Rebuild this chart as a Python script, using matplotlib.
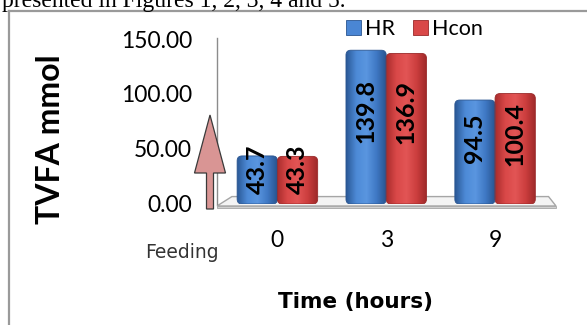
import matplotlib
matplotlib.use('Agg')
import matplotlib.pyplot as plt
import numpy as np
from matplotlib.patches import Polygon, FancyArrow, Patch, FancyBboxPatch
from matplotlib.colors import LinearSegmentedColormap
from matplotlib.lines import Line2D

# ---- data ----
categories = ['0', '3', '9']
series_names = ['HR', 'Hcon']
hr_values = [43.7, 139.8, 94.5]
hcon_values = [43.3, 136.9, 100.4]
yticks = [0, 50, 100, 150]
ytick_labels = ['0.00', '50.00', '100.00', '150.00']
side_label = 'Feeding'
x_title = 'Time (hours)'
y_title = 'TVFA mmol'
top_text = 'presented in Figures 1, 2, 3, 4 and 5.'

W, H = 587, 325
fig = plt.figure(figsize=(W / 100, H / 100), dpi=100)
fig.patch.set_facecolor('white')

ax = fig.add_axes([217 / W, 1 - 204 / H, 339 / W, 165 / H])
ax.set_facecolor('none')

# floor (3D plate)
floor = Polygon([[0, -0.012], [0.044, 0.045], [0.978, 0.045], [1.0, -0.012]],
                closed=True, transform=ax.transAxes, facecolor='#f4f4f4',
                edgecolor='#a6a6a6', linewidth=1.0, clip_on=False, zorder=1)
ax.add_patch(floor)
slab = Polygon([[0, -0.012], [1.0, -0.012], [1.0, -0.024], [0, -0.024]],
               closed=True, transform=ax.transAxes, facecolor='#d0d0d0',
               edgecolor='#a6a6a6', linewidth=0.6, clip_on=False, zorder=1)
ax.add_patch(slab)

x = np.arange(len(categories))
bw = 0.37
bars_hr = ax.bar(x - bw / 2, hr_values, bw, color='none', edgecolor='none', zorder=3)
bars_hc = ax.bar(x + bw / 2, hcon_values, bw, color='none', edgecolor='none', zorder=3)

blue_cmap = LinearSegmentedColormap.from_list('b', ['#2a5896', '#4d8ad6', '#5a96e0', '#3f78c4', '#27528c'])
red_cmap = LinearSegmentedColormap.from_list('r', ['#a82c2c', '#d94848', '#e25555', '#cc3e3e', '#9c2828'])
grad = np.linspace(0, 1, 128).reshape(1, -1)

xmin, xmax, ymin, ymax = -0.555, 2.56, 0, 150
ax.set_xlim(xmin, xmax)
ax.set_ylim(ymin, ymax)
aspect = ((ymax - ymin) / 165) / ((xmax - xmin) / 339)

for bars, cmap, edge in [(bars_hr, blue_cmap, '#2a5590'), (bars_hc, red_cmap, '#9a2a2a')]:
    for b in bars:
        x0, y0, w, h = b.get_x(), b.get_y(), b.get_width(), b.get_height()
        shape = FancyBboxPatch((x0, y0), w, h,
                               boxstyle='round,pad=0,rounding_size=0.045',
                               mutation_aspect=aspect, facecolor='none',
                               edgecolor=edge, linewidth=0.6, zorder=4)
        ax.add_patch(shape)
        im = ax.imshow(grad, cmap=cmap, extent=[x0, x0 + w, y0, y0 + h],
                       aspect='auto', zorder=3.5, interpolation='bilinear')
        im.set_clip_path(shape)

ax.set_xlim(xmin, xmax)
ax.set_ylim(ymin, ymax)

# value labels
for bars, vals in [(bars_hr, hr_values), (bars_hc, hcon_values)]:
    for b, v in zip(bars, vals):
        ax.text(b.get_x() + b.get_width() / 2, v * 0.55 + 8, f'{v:.1f}',
                rotation=90, ha='center', va='center', fontsize=18,
                fontweight='bold', family='Lato', color='black', zorder=6)

# axes styling
for s in ['top', 'right', 'bottom']:
    ax.spines[s].set_visible(False)
ax.spines['left'].set_color('#8c8c8c')
ax.spines['left'].set_linewidth(1.0)
ax.spines['left'].set_bounds(0, 151)
ax.set_yticks(yticks)
ax.set_yticklabels(ytick_labels, family='Lato', fontsize=16.5)
ax.set_xticks(x)
ax.set_xticklabels(categories, family='Lato', fontsize=16.5)
ax.tick_params(axis='y', length=0, pad=18)
ax.tick_params(axis='x', length=0, pad=19)

ax.set_ylabel(y_title, family='Lato', fontweight='bold', fontsize=23, va='center')
ax.yaxis.set_label_coords((51 - 217) / 339, (204 - 139) / 165)
ax.set_xlabel(x_title, family='DejaVu Sans', fontweight='bold', fontsize=15.5)
ax.xaxis.set_label_coords((355 - 217) / 339, -(292 - 204) / 165)

# legend
handles = [Patch(facecolor='#4a86d4', edgecolor='#2a5590', linewidth=0.6),
           Patch(facecolor='#d94848', edgecolor='#9a2a2a', linewidth=0.6)]
leg = ax.legend(handles, series_names, ncol=2, frameon=False,
                loc='upper left', bbox_to_anchor=(346 / W, 1 - 19 / H),
                bbox_transform=fig.transFigure, borderaxespad=0, borderpad=0,
                handlelength=0.7, handleheight=0.7, handletextpad=0.2,
                columnspacing=0.8, prop={'family': 'Lato', 'size': 15.5})

# side label
fig.text(182 / W, 1 - 258 / H, side_label, ha='center', va='baseline',
         fontsize=13.5, color='#333333', family='DejaVu Sans')

# arrow (pink, pointing up) in pixel units via inches transform
arrow = FancyArrow(210 / 100, 116 / 100, 0, 94 / 100, width=7 / 100,
                   head_width=31 / 100, head_length=58 / 100,
                   length_includes_head=True, transform=fig.dpi_scale_trans,
                   facecolor='#d99594', edgecolor='#3a3a3a', linewidth=0.9,
                   zorder=5)
fig.add_artist(arrow)

# surrounding box lines
fig.add_artist(Line2D([9 / W, 9 / W], [0, 1 - 11 / H], transform=fig.transFigure,
                      color='#9a9a9a', linewidth=1.6))
fig.add_artist(Line2D([9 / W, 1], [1 - 11 / H, 1 - 11 / H], transform=fig.transFigure,
                      color='#9a9a9a', linewidth=1.6))

# cut-off text line at the top
fig.text(2 / W, 1 - 7 / H, top_text, ha='left', va='baseline', fontsize=17,
         family='Liberation Serif', color='black')

fig.savefig('out.png', dpi=100)
